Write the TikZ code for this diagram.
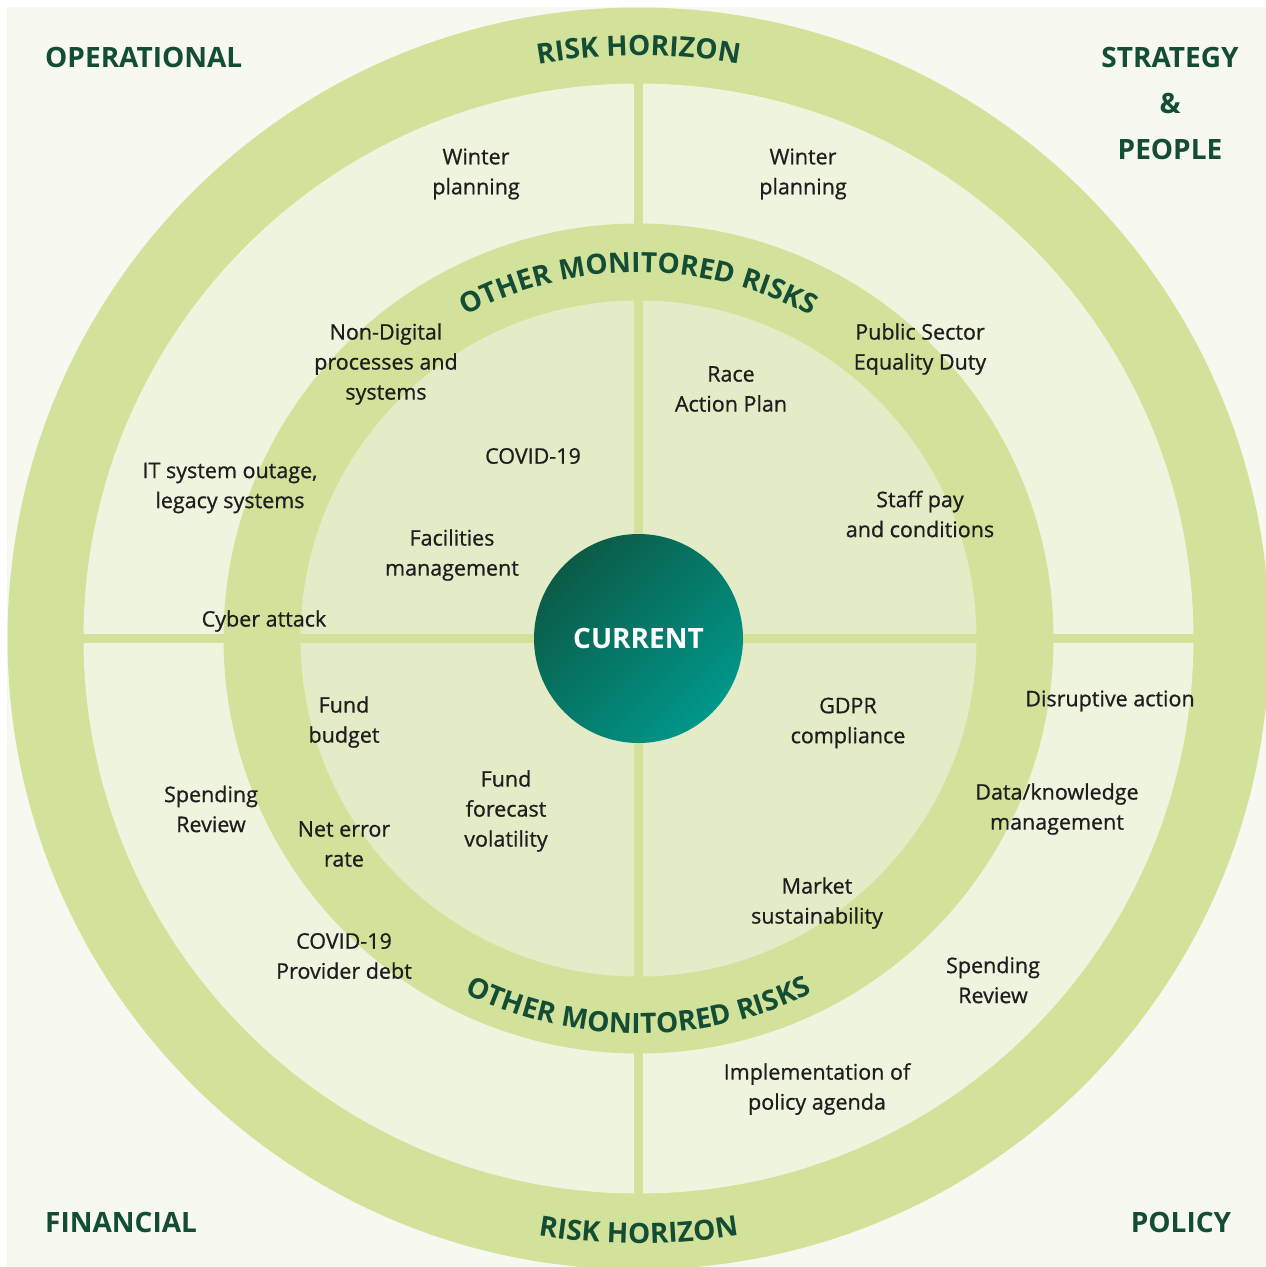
\documentclass[tikz,border=0pt]{standalone}
\usepackage{fontspec}
\setmainfont{Open Sans}
\newfontfamily\riskfamily[RawFeature={embolden=0.8}]{Open Sans}
\usetikzlibrary{decorations.text}

\definecolor{pagebg}{HTML}{F7F8F0}
\definecolor{ringgreen}{HTML}{D3E29B}
\definecolor{outerdisc}{HTML}{EFF4DF}
\definecolor{innerdisc}{HTML}{E4ECC7}
\definecolor{headgreen}{HTML}{134D36}
\definecolor{bodytext}{HTML}{1E1E1E}
\definecolor{coredark}{HTML}{0B5B47}
\definecolor{corelight}{HTML}{00978A}

\newcommand{\arcfont}{\fontsize{28}{30}\selectfont\bfseries}
\newcommand{\innerarcfont}{\fontsize{28}{30}\selectfont\bfseries}

\begin{document}
\begin{tikzpicture}[x=1pt,y=-1pt,
  risk/.style={align=center, font=\riskfamily\fontsize{21.5}{30}\selectfont, text=bodytext, inner sep=0pt},
  area/.style={align=center, font=\fontsize{28}{46}\selectfont\bfseries, text=headgreen, inner sep=0pt},
  divider/.style={draw=ringgreen, line width=8.5pt},
  arclabel/.style 2 args={decorate, decoration={text along path, text align=center,
      text color=headgreen, text={|#1|#2}}}]
\useasboundingbox (0,0) rectangle (1266,1267);
\fill[pagebg] (7,7) rectangle (1266,1267);

% rings and discs
\coordinate (c) at (638.5,638.5);
\fill[ringgreen] (c) circle (631);
\fill[outerdisc] (c) circle (555);
\fill[ringgreen] (c) circle (415);
\fill[innerdisc] (c) circle (338);

% quadrant dividers
\draw[divider] (83,638.5) -- (1194,638.5);
\draw[divider] (638.5,83) -- (638.5,1194);

% core
\shade[left color=coredark, right color=corelight, shading angle=45] (c) circle (104.5);
\node[font=\fontsize{28}{30}\selectfont\bfseries, text=white] (core) at (c) {CURRENT};

% curved ring titles
\path[arclabel={\arcfont}{RISK HORIZON}] (c) ++(200:583) arc[start angle=200, end angle=340, radius=583];
\path[arclabel={\arcfont}{RISK HORIZON}] (c) ++(160:605) arc[start angle=160, end angle=20, radius=605];
\path[arclabel={\innerarcfont}{OTHER MONITORED RISKS}] (c) ++(200:366) arc[start angle=200, end angle=340, radius=366];
\path[arclabel={\innerarcfont}{OTHER MONITORED RISKS}] (c) ++(160:395) arc[start angle=160, end angle=20, radius=395];

% quadrant titles
\node[area, anchor=west] (operational) at (45,57) {OPERATIONAL};
\node[area] (strategy) at (1170,103) {STRATEGY\\\&\\PEOPLE};
\node[area, anchor=west] (financial) at (45,1222) {FINANCIAL};
\node[area] (policy) at (1181,1222) {POLICY};

% risks
\node[risk] (winterL) at (476,174) {Winter\\planning};
\node[risk] (winterR) at (803,174) {Winter\\planning};
\node[risk] (nondigital) at (386,364) {Non-Digital\\processes and\\systems};
\node[risk] (psed) at (920,349) {Public Sector\\Equality Duty};
\node[risk] (race) at (731,389) {Race\\Action Plan};
\node[risk] (covid) at (533,456) {COVID-19};
\node[risk] (itsystem) at (230,488) {IT system outage,\\legacy systems};
\node[risk] (staffpay) at (920,514) {Staff pay\\and conditions};
\node[risk] (facilities) at (452,555) {Facilities\\management};
\node[risk] (cyber) at (264,621) {Cyber attack};
\node[risk] (disruptive) at (1110,701) {Disruptive action};
\node[risk] (fundbudget) at (344,722) {Fund\\budget};
\node[risk] (gdpr) at (848,723) {GDPR\\compliance};
\node[risk] (fundforecast) at (506,811) {Fund\\forecast\\volatility};
\node[risk] (spendingL) at (211,809) {Spending\\Review};
\node[risk] (neterror) at (344,844) {Net error\\rate};
\node[risk] (dataknow) at (1057,809) {Data/knowledge\\management};
\node[risk] (market) at (817,903) {Market\\sustainability};
\node[risk] (providerdebt) at (344,956) {COVID-19\\Provider debt};
\node[risk] (spendingR) at (993,980) {Spending\\Review};
\node[risk] (policyagenda) at (817,1089) {Implementation of\\policy agenda};
\end{tikzpicture}
\end{document}
